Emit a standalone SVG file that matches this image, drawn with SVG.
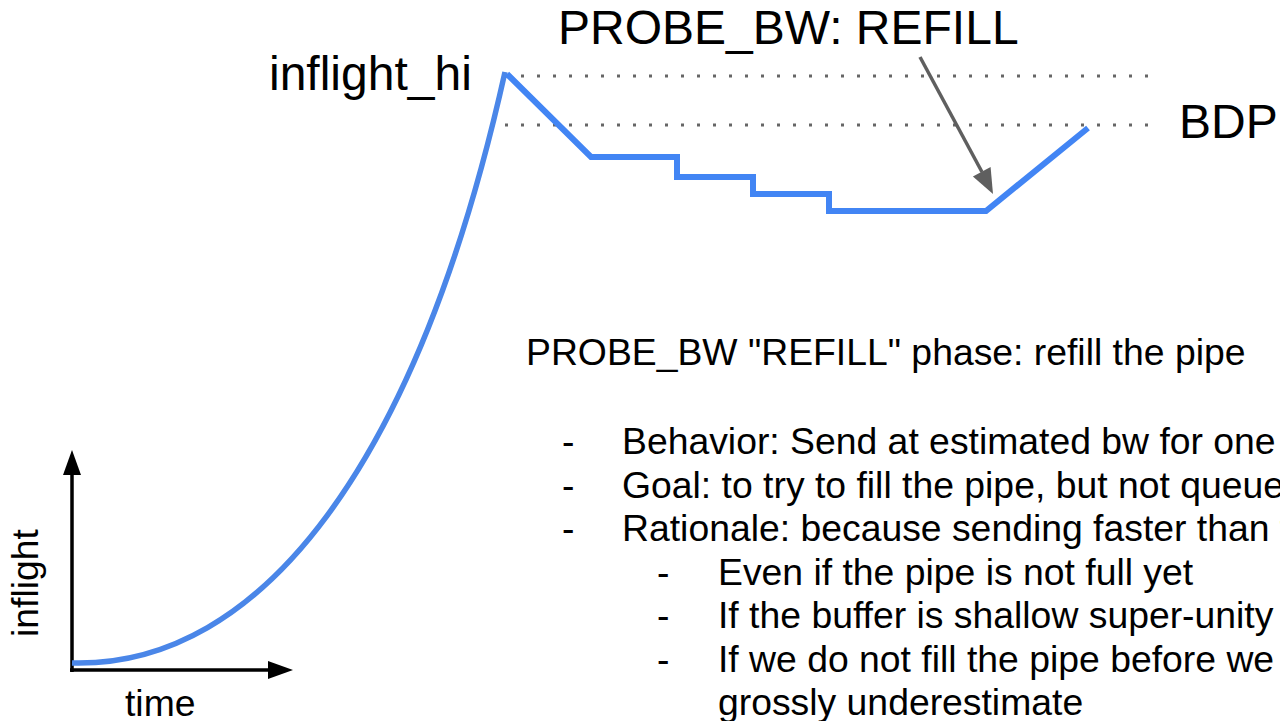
<svg xmlns="http://www.w3.org/2000/svg" width="1280" height="721" viewBox="0 0 1280 721">
  <style>
    .t { font-family: "Liberation Sans", Arial, sans-serif; fill: #000000; }
    .big { font-size: 48px; }
    .body { font-size: 37.33px; }
    .dots { stroke: #666666; stroke-width: 3; stroke-dasharray: 3 13; fill: none; }
    .blue { fill: none; stroke: #4a86e8; stroke-width: 5.5; }
    .blue2 { fill: none; stroke: #4285f4; stroke-width: 6; stroke-linejoin: miter; }
    .axis { stroke: #000000; stroke-width: 3.5; fill: none; }
  </style>
  <rect width="1280" height="721" fill="#ffffff"/>

  <g id="reference-lines">
    <line class="dots" x1="505" y1="76" x2="1148" y2="76"/>
    <line class="dots" x1="505" y1="125" x2="1148" y2="125"/>
  </g>

  <g id="axes">
    <line class="axis" x1="72" y1="672" x2="72" y2="472"/>
    <polygon points="72,450 63,475 81,475" fill="#000000"/>
    <line class="axis" x1="70" y1="670" x2="270" y2="670"/>
    <polygon points="293,670 268,661 268,679" fill="#000000"/>
  </g>

  <g id="inflight-curve">
    <path class="blue" d="M72,663 C262,668 418,462 505,72"/>
    <polyline class="blue2" points="507,74 591,157 677,157 677,177 753,177 753,194 829,194 829,211 986,211 1088,128"/>
  </g>

  <g id="connectors">
    <line x1="920" y1="57" x2="982" y2="172" stroke="#5f5f5f" stroke-width="3.5"/>
    <polygon points="993,194 972.9,176.5 990.6,167.1" fill="#5f5f5f"/>
  </g>

  <g id="label-title">
    <text class="t big" x="558" y="44">PROBE_BW: REFILL</text>
  </g>
  <g id="label-inflight-hi">
    <text class="t big" x="269" y="90">inflight_hi</text>
  </g>
  <g id="label-bdp">
    <text class="t big" x="1179" y="138">BDP</text>
  </g>
  <g id="label-axes">
    <text class="t body" x="125" y="716">time</text>
    <text class="t body" transform="translate(38,637) rotate(-90)" x="0" y="0">inflight</text>
  </g>

  <g id="description">
    <text class="t body" x="526" y="365">PROBE_BW "REFILL" phase: refill the pipe</text>
    <text class="t body" x="562" y="454">-</text>
    <text class="t body" x="622" y="454">Behavior: Send at estimated bw for one</text>
    <text class="t body" x="562" y="497.5">-</text>
    <text class="t body" x="622" y="497.5">Goal: to try to fill the pipe, but not queue</text>
    <text class="t body" x="562" y="541">-</text>
    <text class="t body" x="622" y="541">Rationale: because sending faster than t</text>
    <text class="t body" x="657" y="584.5">-</text>
    <text class="t body" x="718" y="584.5">Even if the pipe is not full yet</text>
    <text class="t body" x="657" y="628">-</text>
    <text class="t body" x="718" y="628">If the buffer is shallow super-unity</text>
    <text class="t body" x="657" y="671.5">-</text>
    <text class="t body" x="718" y="671.5">If we do not fill the pipe before we</text>
    <text class="t body" x="718" y="715">grossly underestimate</text>
  </g>
</svg>
